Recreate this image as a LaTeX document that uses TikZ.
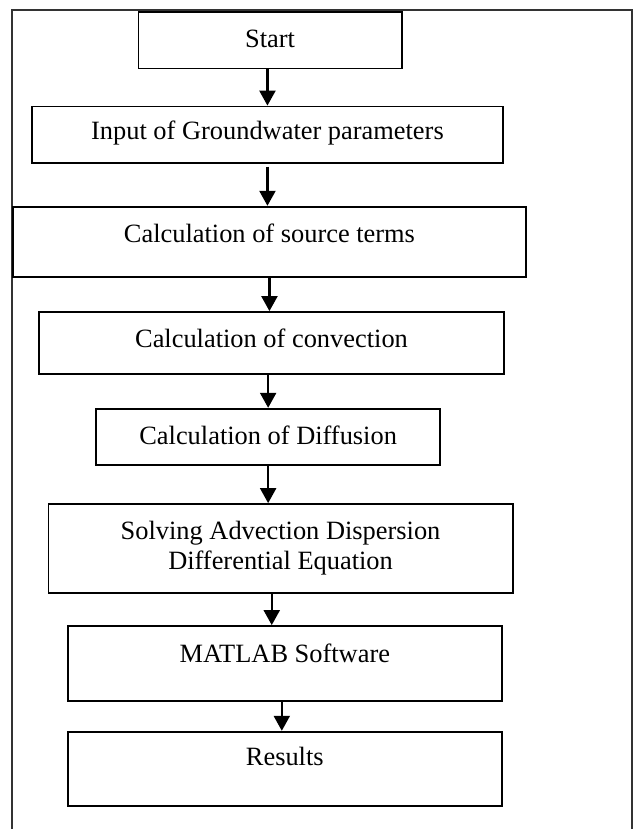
\documentclass[tikz,border=0pt]{standalone}
\usepackage{fontspec}
\setmainfont{Liberation Serif}
\usetikzlibrary{arrows.meta}
\begin{document}
\begin{tikzpicture}[x=1pt,y=-1pt,
  box/.style={draw=black,line width=1.8pt,rectangle,inner sep=0pt,fill=white},
  lbl/.style={anchor=base,inner sep=0pt,font=\fontsize{26.4}{30.7}\selectfont},
  arr/.style={line width=2.2pt,-{Triangle[length=15pt,width=16pt]}},
  frame/.style={draw=black!80,line width=2pt}]
\useasboundingbox (0,0) rectangle (633,829);
% outer frame (open at the bottom)
\coordinate (fbl) at (12.3,829.5);
\coordinate (ftl) at (12.3,10);
\coordinate (ftr) at (631.5,10);
\coordinate (fbr) at (631.5,829.5);
\draw[frame] (fbl) -- (ftl) -- (ftr) -- (fbr);
% boxes
\node[box,minimum width=263.2pt,minimum height=56.8pt] (start) at (270.1,40.1) {};
\node[box,minimum width=470.3pt,minimum height=56.2pt] (input) at (267.45,134.6) {};
\node[box,minimum width=512.3pt,minimum height=70pt] (source) at (269.45,241.7) {};
\node[box,minimum width=464.6pt,minimum height=62pt] (conv) at (271.5,343) {};
\node[box,minimum width=344.3pt,minimum height=56.3pt] (diff) at (268.15,436.85) {};
\node[box,minimum width=464.3pt,minimum height=89pt] (solve) at (280.55,548.5) {};
\node[box,minimum width=434pt,minimum height=75pt] (matlab) at (284.8,663.5) {};
\node[box,minimum width=434pt,minimum height=74.3pt] (results) at (284.8,768.85) {};
% texts
\node[lbl] (tstart) at ([yshift=-36.6pt]start.north) {Start};
\node[lbl] (tinput) at ([yshift=-33.5pt]input.north) {Input of Groundwater parameters};
\node[lbl] (tsource) at ([yshift=-36.5pt]source.north) {Calculation of source terms};
\node[lbl] (tconv) at ([yshift=-36pt]conv.north) {Calculation of convection};
\node[lbl] (tdiff) at ([yshift=-36.3pt]diff.north) {Calculation of Diffusion};
\node[lbl] (tsolveA) at ([yshift=-36pt]solve.north) {Solving Advection Dispersion};
\node[lbl] (tsolveB) at ([yshift=-66.7pt]solve.north) {Differential Equation};
\node[lbl] (tmatlab) at ([yshift=-37pt]matlab.north) {MATLAB Software};
\node[lbl] (tresults) at ([yshift=-35pt]results.north) {Results};
% connectors
\draw[arr] (start.south -| input.north) -- (input.north);
\draw[arr] ([yshift=-3pt]input.south) -- (input.south |- source.north);
\draw[arr] (source.south) -- (source.south |- conv.north);
\draw[arr] (conv.south -| diff.north) -- (diff.north);
\draw[arr] (diff.south) -- (diff.south |- solve.north);
\draw[arr] ([xshift=-8.8pt]solve.south) -- ([xshift=-8.8pt]solve.south |- matlab.north);
\draw[arr] ([xshift=-3pt]matlab.south) -- ([xshift=-3pt]matlab.south |- results.north);
\end{tikzpicture}
\end{document}
